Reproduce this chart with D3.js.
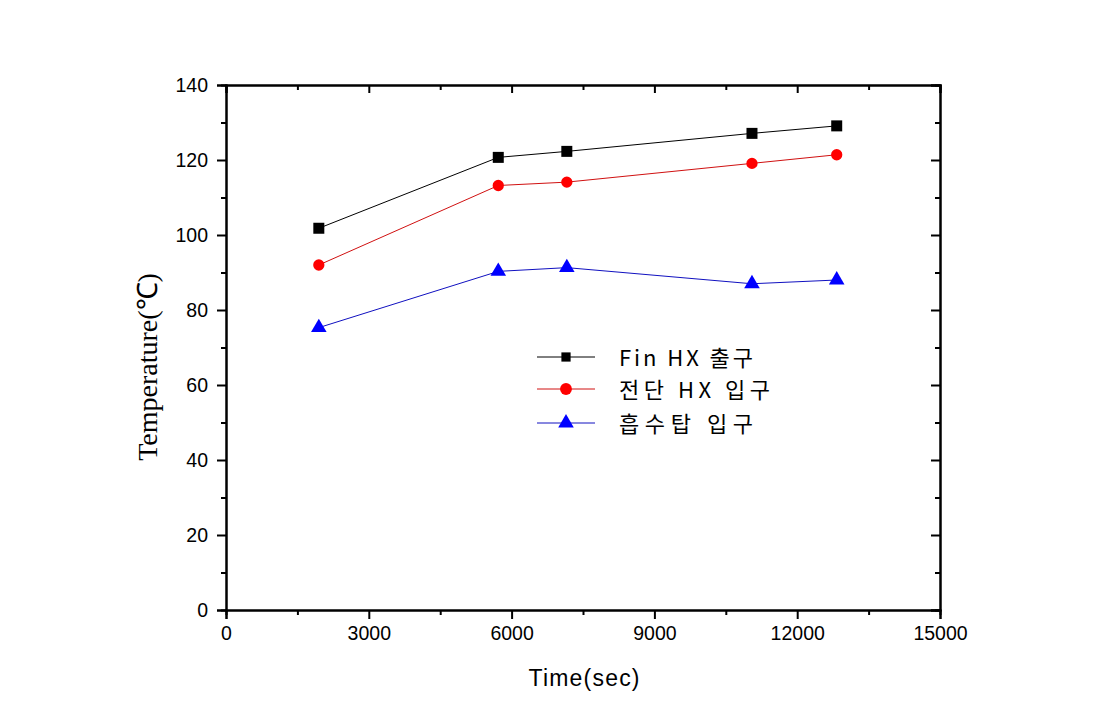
<!DOCTYPE html>
<html><head><meta charset="utf-8">
<script src="https://cdn.jsdelivr.net/npm/d3@7"></script>
<style>body{margin:0;background:#fff}svg{display:block}</style>
</head><body>
<script>
const times = [1950, 5720, 7160, 11050, 12830];
const finHxOut = [101.8, 120.7, 122.3, 127.1, 129.1];
const frontHxIn = [92.0, 113.2, 114.1, 119.1, 121.4];
const absorberIn = [75.3, 90.3, 91.3, 87.0, 88.0];
const seriesNames = ["Fin HX 출구", "전단 HX 입구", "흡수탑 입구"];
const xTicks = [0, 3000, 6000, 9000, 12000, 15000];
const yTicks = [0, 20, 40, 60, 80, 100, 120, 140];

const W = 1113, H = 709;
const L = 226, R = 940, T = 85, B = 610;
const svg = d3.select("body").append("svg").attr("width", W).attr("height", H);
const x = d3.scaleLinear().domain([0, 15000]).range([L, R]);
const y = d3.scaleLinear().domain([0, 140]).range([B, T]);

const font = "'Liberation Sans', Arial, sans-serif";
// axes
const gB = svg.append("g").attr("transform", `translate(0,${B})`)
  .call(d3.axisBottom(x).tickValues(xTicks).tickSize(9).tickPadding(7).tickFormat(d3.format("d")));
const gBm = svg.append("g").attr("transform", `translate(0,${B})`)
  .call(d3.axisBottom(x).tickValues(d3.range(1500, 15000, 3000)).tickSize(5).tickFormat(""));
const gL = svg.append("g").attr("transform", `translate(${L},0)`)
  .call(d3.axisLeft(y).tickValues(yTicks).tickSize(9).tickPadding(9));
const gLm = svg.append("g").attr("transform", `translate(${L},0)`)
  .call(d3.axisLeft(y).tickValues(d3.range(10, 140, 20)).tickSize(5).tickFormat(""));
const gT = svg.append("g").attr("transform", `translate(0,${T})`)
  .call(d3.axisBottom(x).tickValues(xTicks).tickSize(8).tickFormat(""));
const gTm = svg.append("g").attr("transform", `translate(0,${T})`)
  .call(d3.axisBottom(x).tickValues(d3.range(1500, 15000, 3000)).tickSize(5).tickFormat(""));
const gR = svg.append("g").attr("transform", `translate(${R},0)`)
  .call(d3.axisLeft(y).tickValues(yTicks).tickSize(9).tickFormat(""));
const gRm = svg.append("g").attr("transform", `translate(${R},0)`)
  .call(d3.axisLeft(y).tickValues(d3.range(10, 140, 20)).tickSize(5).tickFormat(""));
[gB, gBm, gL, gLm, gT, gTm, gR, gRm].forEach(g => {
  g.attr("font-family", null).attr("font-size", null);
  g.selectAll(".domain").attr("stroke", "#000").attr("stroke-width", 2);
  g.selectAll(".tick line").attr("stroke", "#000").attr("stroke-width", 2);
  g.selectAll("text").style("font-family", font).style("font-size", "19.5px").attr("fill", "#000");
});

// titles
svg.append("text").attr("x", 584).attr("y", 686).attr("text-anchor", "middle")
  .style("font-family", font).style("font-size", "23px")
  .attr("textLength", 111).attr("lengthAdjust", "spacing").text("Time(sec)");
svg.append("text").attr("transform", "translate(157,367) rotate(-90)").attr("text-anchor", "middle")
  .style("font-family", "'Liberation Serif', 'Times New Roman', serif").style("font-size", "28px")
  .text("Temperature(℃)");

const series = [
  {vals: finHxOut, line: "#000", fill: "#000", shape: d3.symbolSquare, size: 121, leg: 85},
  {vals: frontHxIn, line: "#d01010", fill: "#ff0000", shape: d3.symbolCircle, size: 100, leg: 110},
  {vals: absorberIn, line: "#1010c0", fill: "#0000ff", shape: d3.symbolTriangle, size: 105, leg: 105}
];
const lineGen = d3.line().x((d, i) => x(times[i])).y(d => y(d));
series.forEach(s => {
  svg.append("path").attr("d", lineGen(s.vals)).attr("fill", "none")
    .attr("stroke", s.line).attr("stroke-width", 1);
  svg.selectAll(null).data(s.vals).enter().append("path")
    .attr("transform", (d, i) => `translate(${x(times[i])},${y(d)})`)
    .attr("d", d3.symbol().type(s.shape).size(s.size)).attr("fill", s.fill);
});

// legend
const legY = [357, 389, 423];
const legLen = [134, 151, 134];
series.forEach((s, i) => {
  svg.append("line").attr("x1", 537).attr("x2", 595).attr("y1", legY[i]).attr("y2", legY[i])
    .attr("stroke", s.line).attr("stroke-width", 1);
  svg.append("path").attr("transform", `translate(566,${legY[i]})`)
    .attr("d", d3.symbol().type(s.shape).size(s.leg)).attr("fill", s.fill);
  svg.append("text").attr("x", 619).attr("y", legY[i] + 9)
    .style("font-family", "'Noto Sans CJK KR', " + font).style("font-size", "22px")
    .attr("textLength", legLen[i]).attr("lengthAdjust", "spacing").text(seriesNames[i]);
});
</script>
</body></html>
